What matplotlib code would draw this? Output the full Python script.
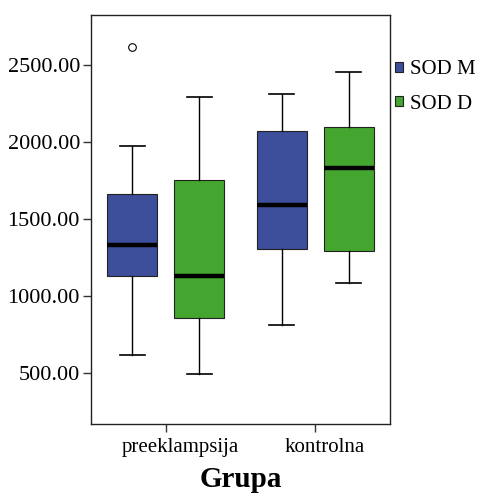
import matplotlib
matplotlib.use("Agg")
import matplotlib.pyplot as plt
from matplotlib.patches import Patch
from matplotlib.transforms import ScaledTranslation

# values
groups = ["preeklampsija", "kontrolna"]
series = ["SOD M", "SOD D"]
colors = ["#3D4E9A", "#44A52F"]

# per series: one entry per group
whislo = {"SOD M": [619, 814], "SOD D": [494, 1086]}
q1 = {"SOD M": [1128, 1305], "SOD D": [859, 1292]}
med = {"SOD M": [1333, 1593], "SOD D": [1130, 1831]}
q3 = {"SOD M": [1664, 2073], "SOD D": [1757, 2097]}
whishi = {"SOD M": [1978, 2314], "SOD D": [2292, 2458]}
fliers = {"SOD M": [[2621], []], "SOD D": [[], []]}

plt.rcParams["font.family"] = ["Liberation Serif", "DejaVu Serif"]

fig = plt.figure(figsize=(4.79, 4.93), dpi=100)
ax = fig.add_axes([0.19, 0.1406, 0.624, 0.829])

offsets = [-0.225, 0.225]
for s, name in enumerate(series):
    stats = []
    for g in range(len(groups)):
        stats.append({
            "whislo": whislo[name][g], "q1": q1[name][g], "med": med[name][g],
            "q3": q3[name][g], "whishi": whishi[name][g], "fliers": fliers[name][g],
        })
    ax.bxp(
        stats,
        positions=[g + offsets[s] for g in range(len(groups))],
        widths=0.334,
        patch_artist=True,
        showfliers=True,
        boxprops=dict(facecolor=colors[s], edgecolor="#222222", linewidth=0.8),
        medianprops=dict(color="black", linewidth=3.2, solid_capstyle="butt"),
        whiskerprops=dict(color="black", linewidth=1.0),
        capprops=dict(color="black", linewidth=1.2),
        capwidths=0.167,
        flierprops=dict(marker="o", markersize=5.5, markerfacecolor="white",
                        markeredgecolor="black", markeredgewidth=0.8),
    )

ax.set_xlim(-0.5, 1.5)
ax.set_ylim(171, 2827)
ax.set_xticks(range(len(groups)))
ax.set_xticklabels(groups)
ax.set_yticks([500, 1000, 1500, 2000, 2500])
ax.set_yticklabels([f"{v:.2f}" for v in [500, 1000, 1500, 2000, 2500]])
ax.tick_params(axis="both", length=6, width=1.0, color="#333333")
ax.tick_params(axis="x", labelsize=15, pad=4)
ax.tick_params(axis="y", labelsize=16, pad=2)
for sp in ax.spines.values():
    sp.set_color("#222222")
    sp.set_linewidth(1.0)

# category labels sit a little right of their ticks in the original
for lbl, dx in zip(ax.get_xticklabels(), [15, 9]):
    lbl.set_transform(lbl.get_transform() + ScaledTranslation(dx / 100, 0, fig.dpi_scale_trans))

ax.set_xlabel("Grupa", fontsize=21, fontweight="bold", labelpad=7)

handles = [Patch(facecolor=c, edgecolor="#222222", linewidth=0.8) for c in colors]
fig.legend(handles, series, loc="upper left", bbox_to_anchor=(0.808, 0.895),
           frameon=False, fontsize=15, handlelength=0.35, handleheight=0.35,
           handletextpad=0.35, labelspacing=0.75, borderaxespad=0)

fig.savefig("out.png", dpi=100)
